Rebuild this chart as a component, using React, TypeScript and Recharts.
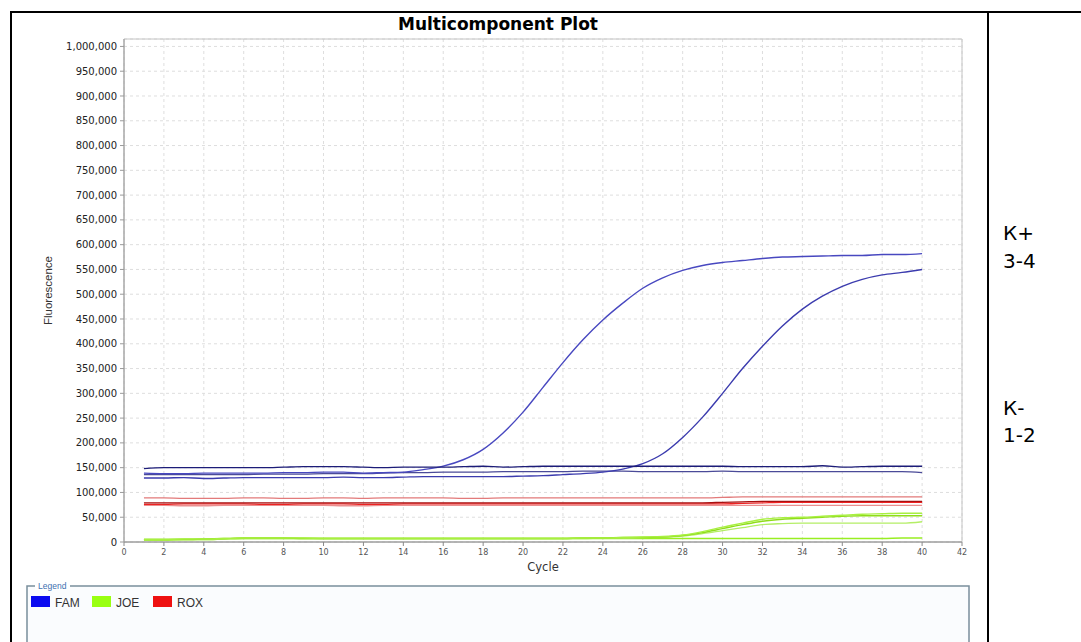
import React from 'react';
import { LineChart, Line, XAxis, YAxis, CartesianGrid, ReferenceArea } from 'recharts';

const cycles = [1, 2, 3, 4, 5, 6, 7, 8, 9, 10, 11, 12, 13, 14, 15, 16, 17, 18, 19, 20, 21, 22, 23, 24, 25, 26, 27, 28, 29, 30, 31, 32, 33, 34, 35, 36, 37, 38, 39, 40];
const xTicks = [0, 2, 4, 6, 8, 10, 12, 14, 16, 18, 20, 22, 24, 26, 28, 30, 32, 34, 36, 38, 40, 42];
const yTicks = [0, 50000, 100000, 150000, 200000, 250000, 300000, 350000, 400000, 450000, 500000, 550000, 600000, 650000, 700000, 750000, 800000, 850000, 900000, 950000, 1000000];
const yMax = 1015000;

// FAM
const famFlatTop = [148000, 150000, 150000, 150000, 150000, 150000, 150000, 151000, 152000, 152000, 152000, 151000, 150000, 151000, 151000, 151000, 152000, 153000, 151000, 152000, 153000, 153000, 153000, 153000, 153000, 153000, 153000, 153000, 153000, 153000, 152000, 152000, 152000, 152000, 154000, 151000, 152000, 153000, 153000, 153000];
const famFlatLow = [136000, 136000, 136000, 136000, 136000, 136000, 137000, 137000, 137000, 138000, 138000, 138000, 139000, 140000, 140000, 141000, 141000, 141000, 142000, 142000, 142000, 142000, 143000, 143000, 143000, 142000, 142000, 142000, 142000, 143000, 142000, 142000, 142000, 142000, 142000, 142000, 142000, 142000, 142000, 140000];
const famEarly = [139000, 138000, 138000, 139000, 139000, 139000, 139000, 140000, 140000, 141000, 141000, 139000, 140000, 141000, 146000, 153000, 166000, 187000, 220000, 262000, 312000, 362000, 408000, 448000, 482000, 512000, 533000, 548000, 558000, 564000, 568000, 572000, 575000, 576000, 577000, 578000, 578000, 580000, 580000, 582000];
const famLate = [129000, 129000, 130000, 128000, 129000, 130000, 130000, 130000, 130000, 130000, 131000, 130000, 130000, 131000, 132000, 132000, 132000, 132000, 132000, 133000, 134000, 136000, 138000, 141000, 147000, 158000, 178000, 211000, 252000, 300000, 350000, 395000, 436000, 470000, 496000, 516000, 530000, 539000, 544000, 550000];

// ROX
const rox1 = [89000, 89000, 88000, 88000, 88000, 89000, 89000, 88000, 88000, 89000, 89000, 88000, 89000, 89000, 89000, 89000, 88000, 88000, 89000, 89000, 89000, 89000, 89000, 89000, 89000, 89000, 89000, 89000, 89000, 90000, 91000, 91000, 91000, 91000, 91000, 91000, 91000, 91000, 91000, 91000];
const rox2 = [79000, 79000, 79000, 79000, 79000, 79000, 79000, 79000, 79000, 79000, 79000, 79000, 79000, 79000, 79000, 79000, 79000, 79000, 79000, 79000, 79000, 79000, 79000, 79000, 79000, 79000, 79000, 79000, 79000, 80000, 81000, 82000, 82000, 82000, 82000, 82000, 82000, 82000, 82000, 82000];
const rox3 = [76000, 76000, 77000, 77000, 77000, 77000, 76000, 76000, 77000, 77000, 77000, 76000, 76000, 77000, 77000, 77000, 77000, 77000, 77000, 77000, 77000, 77000, 77000, 77000, 77000, 77000, 77000, 77000, 77000, 77000, 78000, 79000, 80000, 80000, 80000, 80000, 80000, 80000, 80000, 80000];
const rox4 = [74000, 74000, 73000, 73000, 74000, 74000, 74000, 74000, 74000, 74000, 73000, 73000, 74000, 74000, 74000, 74000, 74000, 74000, 74000, 74000, 74000, 74000, 74000, 74000, 74000, 74000, 74000, 74000, 74000, 74000, 74000, 74000, 74000, 74000, 74000, 74000, 74000, 74000, 74000, 74000];

// JOE
const joe1 = [5000, 5000, 6000, 6000, 7000, 8000, 8000, 8000, 8000, 7000, 7000, 7000, 7000, 7000, 7000, 7000, 7000, 7000, 7000, 7000, 7000, 7000, 8000, 8000, 9000, 10000, 11000, 14000, 21000, 30000, 38000, 46000, 49000, 50000, 52000, 54000, 56000, 57000, 58000, 58000];
const joe2 = [5000, 5000, 5000, 6000, 7000, 8000, 8000, 8000, 7000, 7000, 7000, 7000, 7000, 7000, 7000, 7000, 7000, 7000, 7000, 7000, 7000, 7000, 8000, 8000, 9000, 9000, 10000, 13000, 19000, 27000, 35000, 42000, 46000, 48000, 50000, 52000, 53000, 53000, 53000, 53000];
const joe3 = [5000, 5000, 5000, 5000, 6000, 7000, 7000, 7000, 7000, 7000, 7000, 7000, 7000, 7000, 7000, 7000, 7000, 7000, 7000, 7000, 7000, 7000, 7000, 8000, 8000, 9000, 10000, 12000, 17000, 23000, 29000, 35000, 37000, 38000, 38000, 38000, 38000, 38000, 38000, 41000];
const joe4 = [4000, 4000, 5000, 5000, 6000, 7000, 7000, 7000, 7000, 7000, 7000, 7000, 7000, 7000, 7000, 7000, 7000, 7000, 7000, 7000, 7000, 7000, 7000, 7000, 7000, 7000, 7000, 7000, 7000, 7000, 7000, 7000, 7000, 7000, 7000, 7000, 7000, 7000, 8000, 8000];

const legendItems = ['FAM', 'JOE', 'ROX'];
const legendColors = ['#0a0af0', '#99ff11', '#ee1111'];

const seriesDefs = [
  { key: 'rox1', values: rox1, color: '#e27a7a' },
  { key: 'rox4', values: rox4, color: '#e99090' },
  { key: 'rox3', values: rox3, color: '#ee2222' },
  { key: 'rox2', values: rox2, color: '#a81010' },
  { key: 'joe4', values: joe4, color: '#99ee22' },
  { key: 'joe3', values: joe3, color: '#b4ee66' },
  { key: 'joe2', values: joe2, color: '#8fdd1a' },
  { key: 'joe1', values: joe1, color: '#a8f040' },
  { key: 'famFlatLow', values: famFlatLow, color: '#4a4a98' },
  { key: 'famLate', values: famLate, color: '#3b3bae' },
  { key: 'famEarly', values: famEarly, color: '#4848c0' },
  { key: 'famFlatTop', values: famFlatTop, color: '#1c1c78' },
];

const rows = cycles.map((cycle, i) => {
  const r: Record<string, number> = { cycle };
  seriesDefs.forEach((s) => {
    r[s.key] = s.values[i];
  });
  return r;
});

const fmt = (v: number) => v.toLocaleString('en-US');

export default function App() {
  return (
    <div style={{ position: 'absolute', left: 0, top: 0, width: 1081, height: 642, background: '#ffffff', overflow: 'hidden' }}>
      <div style={{ position: 'absolute', left: 0, top: 0 }}>
        <LineChart width={1081} height={642} data={rows} margin={{ top: 39, right: 119, bottom: 70, left: 54 }}>
          <CartesianGrid stroke="#dedede" strokeDasharray="3 3" />
          <XAxis
            dataKey="cycle"
            type="number"
            domain={[0, 42]}
            ticks={xTicks}
            interval={0}
            height={30}
            tickSize={4}
            tickMargin={3}
            stroke="#8a8a8a"
            tick={{ fontSize: 8, fill: '#555555', fontFamily: 'DejaVu Sans' }}
            label={{
              content: (props: any) => {
                const vb = props.viewBox || { x: 124, y: 542, width: 838, height: 30 };
                return (
                  <text x={vb.x + vb.width / 2} y={571} textAnchor="middle" fontSize={11.5} fontFamily="DejaVu Sans" fill="#333333">
                    Cycle
                  </text>
                );
              },
            }}
          />
          <YAxis
            type="number"
            domain={[0, yMax]}
            ticks={yTicks}
            interval={0}
            width={70}
            tickSize={4}
            tickMargin={3}
            stroke="#9a9a9a"
            tickFormatter={fmt}
            tick={{ fontSize: 10, fill: '#222222', fontFamily: 'DejaVu Sans' }}
            label={{
              content: (props: any) => {
                const vb = props.viewBox || { x: 54, y: 39, width: 70, height: 503 };
                const cx = 48;
                const cy = vb.y + vb.height / 2;
                return (
                  <text
                    x={cx}
                    y={cy}
                    transform={`rotate(-90 ${cx} ${cy})`}
                    textAnchor="middle"
                    dominantBaseline="central"
                    fontSize={11.5}
                    fontFamily="Liberation Sans"
                    fill="#333333"
                  >
                    Fluorescence
                  </text>
                );
              },
            }}
          />
          <ReferenceArea x1={0} x2={42} y1={0} y2={yMax} fill="none" fillOpacity={0} stroke="#c4c4c4" strokeWidth={1} />
          {seriesDefs.map((s) => (
            <Line
              key={s.key}
              dataKey={s.key}
              type="monotone"
              stroke={s.color}
              strokeWidth={1.4}
              dot={false}
              activeDot={false}
              isAnimationActive={false}
            />
          ))}
        </LineChart>
      </div>
      <svg width={1081} height={642} style={{ position: 'absolute', left: 0, top: 0, pointerEvents: 'none' }}>
        <line x1={11} y1={12} x2={1081} y2={12} stroke="#000" strokeWidth={2} />
        <line x1={11} y1={11} x2={11} y2={642} stroke="#000" strokeWidth={2} />
        <line x1={988} y1={11} x2={988} y2={642} stroke="#000" strokeWidth={2} />
        <text x={498} y={30} textAnchor="middle" fontSize={17} fontWeight="bold" fontFamily="DejaVu Sans" fill="#000">
          Multicomponent Plot
        </text>
        <g fontFamily="DejaVu Sans" fontSize={20} fill="#000">
          <text x={1003} y={240}>К+</text>
          <text x={1003} y={268}>3-4</text>
          <text x={1003} y={415}>К-</text>
          <text x={1003} y={442}>1-2</text>
        </g>
        <rect x={27} y={586} width={942} height={80} fill="#fafcfe" stroke="#7a8e9c" strokeWidth={1.5} />
        <rect x={35} y={582} width={35} height={8} fill="#ffffff" />
        <text x={38} y={589} fontSize={8.5} fontFamily="Liberation Sans" fill="#4070b0">
          Legend
        </text>
        {legendItems.map((name, i) => (
          <g key={name}>
            <rect x={31 + i * 61} y={596} width={19} height={11} fill={legendColors[i]} />
            <text x={55 + i * 61} y={607} fontSize={12} fontFamily="Liberation Sans" fill="#333333">
              {name}
            </text>
          </g>
        ))}
      </svg>
    </div>
  );
}
